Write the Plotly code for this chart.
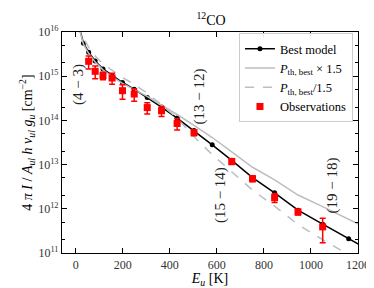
import math
import plotly.graph_objects as go

# Upper-level energies E_u [K] for 12CO J_up = 2..21
eu_model = [16.6, 33.2, 55.3, 83.0, 116.2, 154.9, 199.1, 248.9, 304.2, 365.0,
            431.3, 503.1, 580.5, 663.4, 751.7, 845.6, 945.0, 1049.9, 1160.2, 1276.0]
best_model = [1.2e16, 5.6e15, 3.5e15, 2.2e15, 1.46e15, 1.03e15, 7.2e14, 5.1e14, 3.3e14, 2.0e14,
              1.13e14, 5.9e13, 2.8e13, 1.25e13, 5.1e12, 2.3e12, 9.3e11, 4.5e11, 2.1e11, 9.5e10]
p_times = [1.14e16, 5.3e15, 3.3e15, 2.1e15, 1.39e15, 9.8e14, 6.9e14, 5.1e14, 3.5e14, 2.2e14,
           1.36e14, 7.7e13, 4.1e13, 1.94e13, 8.7e12, 4.5e12, 2.05e12, 1.12e12, 5.9e11, 2.9e11]
p_div = [1.56e16, 7.3e15, 4.5e15, 2.85e15, 1.9e15, 1.34e15, 9.3e14, 6.6e14, 4.1e14, 2.25e14,
         1.13e14, 4.25e13, 1.68e13, 6.9e12, 2.65e12, 1.15e12, 4.4e11, 2.0e11, 9.0e10, 4.0e10]

# Observations (J_up = 4..13, 15..19)
eu_obs = [55.3, 83.0, 116.2, 154.9, 199.1, 248.9, 304.2, 365.0, 431.3, 503.1,
          663.4, 751.7, 845.6, 945.0, 1049.9]
obs = [2.17e15, 1.29e15, 1.03e15, 9.1e14, 4.7e14, 3.95e14, 1.95e14, 1.65e14, 8.5e13, 5.3e13,
       1.18e13, 4.8e12, 1.78e12, 8.5e11, 3.9e11]
obs_err = [7.1e14, 4.1e14, 2.0e14, 2.5e14, 1.7e14, 1.25e14, 5.5e13, 4.2e13, 2.4e13, 8.0e12,
           1.8e12, 7.0e11, 4.0e11, 1.3e11, 2.2e11]

transition_labels = ["(4 − 3)", "(13 − 12)", "(15 − 14)", "(19 − 18)"]
label_eu = [10, 525, 616, 1092]
label_val = [6.3e14, 3.5e14, 2.0e12, 3.3e12]

x_ticks = [0, 200, 400, 600, 800, 1000, 1200]
y_tick_vals = [1e11, 1e12, 1e13, 1e14, 1e15, 1e16]
y_tick_text = ["10<sup>11</sup>", "10<sup>12</sup>", "10<sup>13</sup>",
               "10<sup>14</sup>", "10<sup>15</sup>", "10<sup>16</sup>"]

FONT = "Liberation Serif"

fig = go.Figure()
fig.add_trace(go.Scatter(x=eu_model, y=best_model, mode="lines+markers", name="Best model",
                         line=dict(color="black", width=1.5),
                         marker=dict(color="black", size=5)))
fig.add_trace(go.Scatter(x=eu_model, y=p_times, mode="lines",
                         name="<i>P</i><sub>th, best</sub> × 1.5",
                         line=dict(color="#bdbdbd", width=1.5)))
fig.add_trace(go.Scatter(x=eu_model, y=p_div, mode="lines",
                         name="<i>P</i><sub>th, best</sub>/1.5",
                         line=dict(color="#b9bec6", width=1.5, dash="dash")))
fig.add_trace(go.Scatter(x=eu_obs, y=obs, mode="markers", name="Observations",
                         marker=dict(color="red", size=7, symbol="square"),
                         error_y=dict(type="data", array=obs_err, color="red",
                                      thickness=1.5, width=3)))

for t, xe, yv in zip(transition_labels, label_eu, label_val):
    fig.add_annotation(x=xe, y=math.log10(yv), yref="y", xref="x", text=t, showarrow=False,
                       textangle=-90, font=dict(family=FONT, size=15, color="#222"))

axis_common = dict(showline=True, linecolor="black", linewidth=1.2, mirror="allticks",
                   ticks="inside", ticklen=5, tickwidth=1.2, tickcolor="black",
                   showgrid=False, zeroline=False,
                   tickfont=dict(family=FONT, size=12, color="#333"))

fig.update_xaxes(range=[-58, 1200], tickvals=x_ticks,
                 title=dict(text="<i>E<sub>u</sub></i> [K]", standoff=2,
                            font=dict(family=FONT, size=14, color="black")),
                 **axis_common)
fig.update_yaxes(type="log", range=[11, 16], tickvals=y_tick_vals, ticktext=y_tick_text,
                 minor=dict(ticks="inside", ticklen=2.5, tickwidth=0.8, tickcolor="black",
                            showgrid=False),
                 title=dict(text="4 <i>π I</i> / <i>A<sub>ul</sub> h ν<sub>ul</sub> g<sub>u</sub></i> [cm<sup>−2</sup>]",
                            standoff=2, font=dict(family=FONT, size=14, color="black")),
                 **axis_common)

fig.update_layout(
    width=374, height=288,
    margin=dict(l=54, r=21, t=24, b=43),
    paper_bgcolor="white", plot_bgcolor="white",
    title=dict(text="<sup>12</sup>CO", x=0.543, xanchor="center", y=0.975, yanchor="top",
               font=dict(family=FONT, size=14, color="black")),
    legend=dict(x=0.983, y=0.995, xanchor="right", yanchor="top",
                bgcolor="rgba(255,255,255,0.9)", bordercolor="#cccccc", borderwidth=1,
                font=dict(family=FONT, size=12.5, color="black"),
                tracegroupgap=0, itemwidth=30),
    showlegend=True,
)

fig.write_html("out.html")
